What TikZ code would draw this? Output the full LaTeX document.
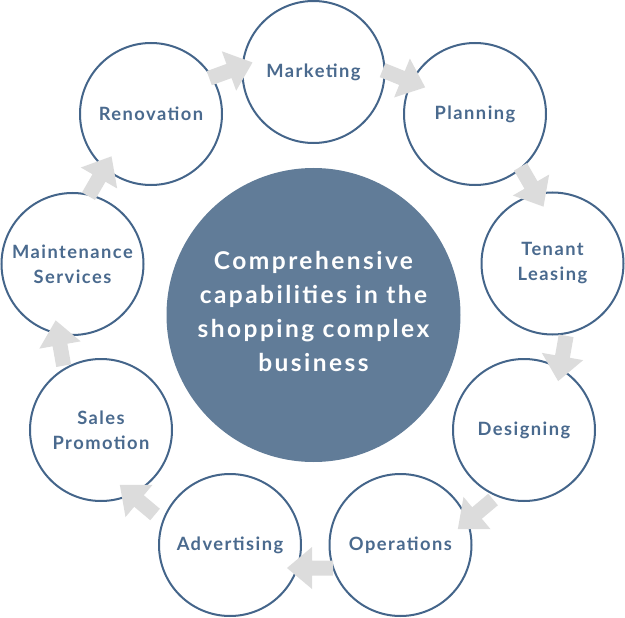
\documentclass[tikz,border=0pt]{standalone}
\usepackage{fontspec}
\setmainfont{Lato}[LetterSpace=8]
\newfontfamily\hubfont{Lato}[LetterSpace=10]
\definecolor{outl}{HTML}{44658A}
\definecolor{labtext}{HTML}{4A6A8E}
\definecolor{hubfill}{HTML}{617C98}
\definecolor{arrowgray}{HTML}{DCDCDC}
\begin{document}
\begin{tikzpicture}[x=1pt,y=-1pt,
  outer/.style={circle, draw=outl, line width=2pt, fill=white, minimum size=142pt, inner sep=0pt,
    text=labtext, font=\bfseries\fontsize{18.3}{25}\selectfont, align=center},
  hub/.style={circle, fill=hubfill, minimum size=294pt, inner sep=0pt},
  hubtext/.style={text=white, font=\hubfont\bfseries\fontsize{24.5}{34}\selectfont, align=center},
  blockarr/.pic={\fill[arrowgray] (-21,-7.5) -- (0,-7.5) -- (0,-21) -- (25,0) -- (0,21) -- (0,7.5) -- (-21,7.5) -- cycle;}
]
\useasboundingbox (0,0) rectangle (625,618);
\node[hub] (hub) at (313.5,315) {};
\node[hubtext] (hubtxt) at (313.5,311) {Comprehensive\\capabilities in the\\shopping complex\\business};

\node[outer] (mkt) at (313.5,72) {Marketing};
\node[outer] (pln) at (475,114) {Planning};
\node[outer] (ten) at (552.5,263.5) {Tenant\\Leasing};
\node[outer] (des) at (524,430) {Designing};
\node[outer] (ops) at (400.5,545) {Operations};
\node[outer] (adv) at (230,545) {Advertising};
\node[outer] (sal) at (101,430) {Sales\\Promotion};
\node[outer] (mnt) at (72.5,264) {Maintenance\\Services};
\node[outer] (ren) at (151,114) {Renovation};

\coordinate (a1) at (229,71);
\coordinate (a2) at (402,78);
\coordinate (a3) at (531,185);
\coordinate (a4) at (562.5,356.5);
\coordinate (a5) at (477,513);
\coordinate (a6) at (312,568);
\coordinate (a7) at (139,501);
\coordinate (a8) at (60,345);
\coordinate (a9) at (99,178);

\pic[rotate=20] at (a1) {blockarr};
\pic[rotate=-22] at (a2) {blockarr};
\pic[rotate=-60] at (a3) {blockarr};
\pic[rotate=-100] at (a4) {blockarr};
\pic[rotate=-140] at (a5) {blockarr};
\pic[rotate=180] at (a6) {blockarr};
\pic[rotate=140] at (a7) {blockarr};
\pic[rotate=100] at (a8) {blockarr};
\pic[rotate=60] at (a9) {blockarr};
\end{tikzpicture}
\end{document}
